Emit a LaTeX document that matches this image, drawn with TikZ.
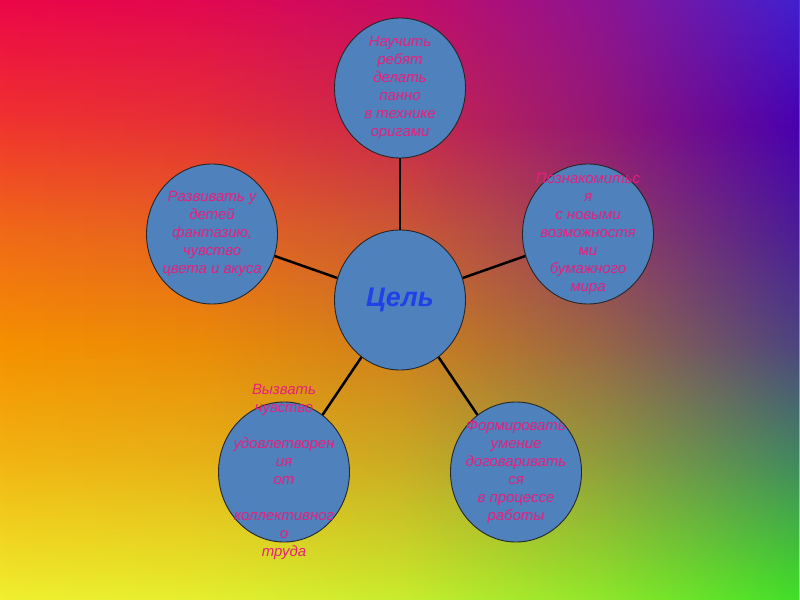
\documentclass[tikz,border=0pt]{standalone}
\usepackage{fontspec}
\setmainfont{Liberation Sans}
\usetikzlibrary{shapes.geometric, fadings}
\definecolor{tfill}{HTML}{4F81BD}
\definecolor{tpink}{HTML}{E4207C}
\definecolor{tblue}{HTML}{2040E8}
% left edge colours, top to bottom
\definecolor{lA}{HTML}{EC0648}
\definecolor{lB}{HTML}{F03030}
\definecolor{lC}{HTML}{F06818}
\definecolor{lD}{HTML}{F59000}
\definecolor{lE}{HTML}{F2B412}
\definecolor{lF}{HTML}{F0E428}
\definecolor{lG}{HTML}{F0F030}
% right edge colours, top to bottom
\definecolor{rA}{HTML}{4020D0}
\definecolor{rB}{HTML}{4800B0}
\definecolor{rC}{HTML}{4A1C98}
\definecolor{rD}{HTML}{4C4480}
\definecolor{rE}{HTML}{408860}
\definecolor{rF}{HTML}{40D030}
\definecolor{rG}{HTML}{40E028}
\pgfdeclareverticalshading{leftside}{100bp}{color(0bp)=(lG); color(25bp)=(lG);
  color(27.2bp)=(lF); color(36.7bp)=(lE); color(46.3bp)=(lD); color(55.8bp)=(lC);
  color(65.4bp)=(lB); color(75bp)=(lA); color(100bp)=(lA)}
\pgfdeclareverticalshading{rightside}{100bp}{color(0bp)=(rG); color(25bp)=(rG);
  color(27.2bp)=(rF); color(36.7bp)=(rE); color(46.3bp)=(rD); color(55.8bp)=(rC);
  color(64.5bp)=(rB); color(75bp)=(rA); color(100bp)=(rA)}
\pgfdeclarehorizontalshading{rampx}{100bp}{color(0bp)=(black); color(25bp)=(black);
  color(37.5bp)=(black!94); color(50bp)=(black!78); color(62.5bp)=(black!45);
  color(75bp)=(white); color(100bp)=(white)}
\pgfdeclarefading{rightfade}{\pgfuseshading{rampx}}

\begin{document}
\begin{tikzpicture}[x=1bp, y=-1bp,
    bubble/.style={ellipse, draw=black!85, line width=0.9bp, fill=tfill,
      minimum width=131bp, minimum height=140bp, inner sep=0pt},
    bubbletext/.style={text=tpink, font=\fontsize{15}{18}\selectfont\itshape,
      align=center, inner sep=0pt},
    link/.style={line width=2.5bp, black}]
  % background
  \useasboundingbox (0,0) rectangle (800,600);
  \shade[shading=leftside] (0,0) rectangle (800,600);
  \shade[shading=rightside, path fading=rightfade] (0,0) rectangle (800,600);

  % bubbles
  \node[bubble] (goal) at (400,300) {};
  \node[bubble] (craft) at (400,88) {};
  \node[bubble] (explore) at (588,234) {};
  \node[bubble] (fancy) at (212,234) {};
  \node[bubble] (joy) at (284,472) {};
  \node[bubble] (teamwork) at (516,472) {};

  % links
  \foreach \n in {craft, explore, fancy, joy, teamwork}
    \draw[link] (goal) -- (\n);

  % texts
  \node[font=\fontsize{27}{30}\selectfont\bfseries\itshape, text=tblue] (goal-t) at (goal) {Цель};
  \node[bubbletext] (craft-t) at (craft) {Научить\\ребят\\делать\\панно\\в технике\\оригами};
  \node[bubbletext] (explore-t) at (explore) {Познакомитьс\\я\\с новыми\\возможностя\\ми\\бумажного\\мира};
  \node[bubbletext] (fancy-t) at (fancy) {Развивать у\\детей\\фантазию,\\чувство\\цвета и вкуса};
  \node[bubbletext] (joy-t) at (joy) {Вызвать\\чувство\\\mbox{}\\удовлетворен\\ия\\от\\\mbox{}\\коллективног\\о\\труда};
  \node[bubbletext] (teamwork-t) at (teamwork) {Формировать\\умение\\договаривать\\ся\\в процессе\\работы};
\end{tikzpicture}
\end{document}
